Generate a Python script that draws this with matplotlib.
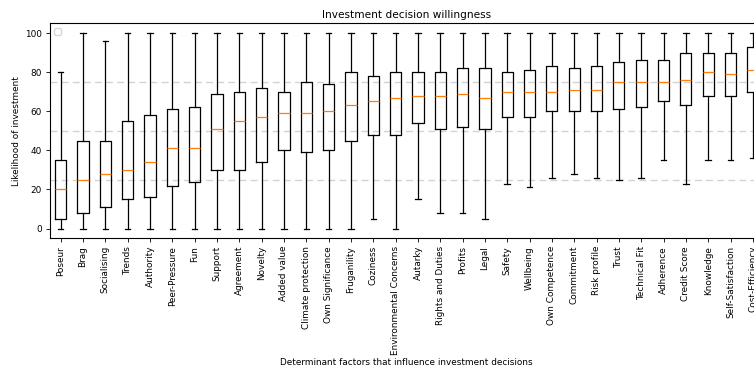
import matplotlib
matplotlib.use("Agg")
import matplotlib.pyplot as plt

# Faktore en hul boxplot statistieke (afgelees)
factors = ["Poseur", "Brag", "Socialising", "Trends", "Authority", "Peer-Pressure",
           "Fun", "Support", "Agreement", "Novelty", "Added value", "Climate protection",
           "Own Significance", "Fruganility", "Coziness", "Environmental Concerns",
           "Autarky", "Rights and Duties", "Profits", "Legal", "Safety", "Wellbeing",
           "Own Competence", "Commitment", "Risk profile", "Trust", "Technical Fit",
           "Adherence", "Credit Score", "Knowledge", "Self-Satisfaction", "Cost-Efficiency"]
whislo = [0, 0, 0, 0, 0, 0, 0, 0, 0, 0, 0, 0, 0, 0, 5, 0,
          15, 8, 8, 5, 23, 21, 26, 28, 26, 25, 26, 35, 23, 35, 35, 36]
q1 = [5, 8, 11, 15, 16, 22, 24, 30, 30, 34, 40, 39, 40, 45, 48, 48,
      54, 51, 52, 51, 57, 57, 60, 60, 60, 61, 62, 65, 63, 68, 68, 70]
med = [20, 25, 28, 30, 34, 41, 41, 51, 55, 57, 59, 59, 60, 63, 65, 67,
       68, 68, 69, 67, 70, 70, 70, 71, 71, 75, 75, 75, 76, 80, 79, 81]
q3 = [35, 45, 45, 55, 58, 61, 62, 69, 70, 72, 70, 75, 74, 80, 78, 80,
      80, 80, 82, 82, 80, 81, 83, 82, 83, 85, 86, 86, 90, 90, 90, 93]
whishi = [80, 100, 96, 100, 100, 100, 100, 100, 100, 100, 100, 100, 100, 100, 100, 100,
          100, 100, 100, 100, 100, 100, 100, 100, 100, 100, 100, 100, 100, 100, 100, 100]

plt.rcParams['font.size'] = 6.4
plt.rcParams['xtick.major.size'] = 3
plt.rcParams['ytick.major.size'] = 3
plt.rcParams['xtick.major.width'] = 0.6
plt.rcParams['ytick.major.width'] = 0.6
plt.rcParams['xtick.major.pad'] = 2.5
plt.rcParams['ytick.major.pad'] = 2.5
plt.rcParams['axes.linewidth'] = 0.8

stats = []
for i in range(len(factors)):
    stats.append({'whislo': whislo[i], 'q1': q1[i], 'med': med[i],
                  'q3': q3[i], 'whishi': whishi[i], 'fliers': []})

fig = plt.figure(figsize=(7.54, 3.67), dpi=100)
ax = fig.add_axes([0.0657, 0.3507, 0.9476, 0.5858])

for y in [25, 50, 75]:
    ax.axhline(y, color='lightgray', linestyle=(0, (5, 3)), linewidth=1)

ax.bxp(stats, positions=range(1, len(factors) + 1), widths=0.5,
       boxprops={'linewidth': 0.9}, whiskerprops={'linewidth': 0.9},
       capprops={'linewidth': 0.9}, medianprops={'linewidth': 0.9, 'color': '#ff7f0e'})

ax.set_xticks(range(1, len(factors) + 1))
ax.set_xticklabels(factors, rotation=90)
ax.set_xlim(0.5, len(factors) + 0.5)
ax.set_ylim(-5, 105)
ax.set_yticks([0, 20, 40, 60, 80, 100])
ax.set_title('Investment decision willingness', fontsize=7.6, pad=4)
ax.set_ylabel('Likelihood of investment', labelpad=3)
ax.set_xlabel('Determinant factors that influence investment decisions', labelpad=2)
ax.legend(handles=[], loc='upper left')

fig.savefig('out.png', dpi=100)
